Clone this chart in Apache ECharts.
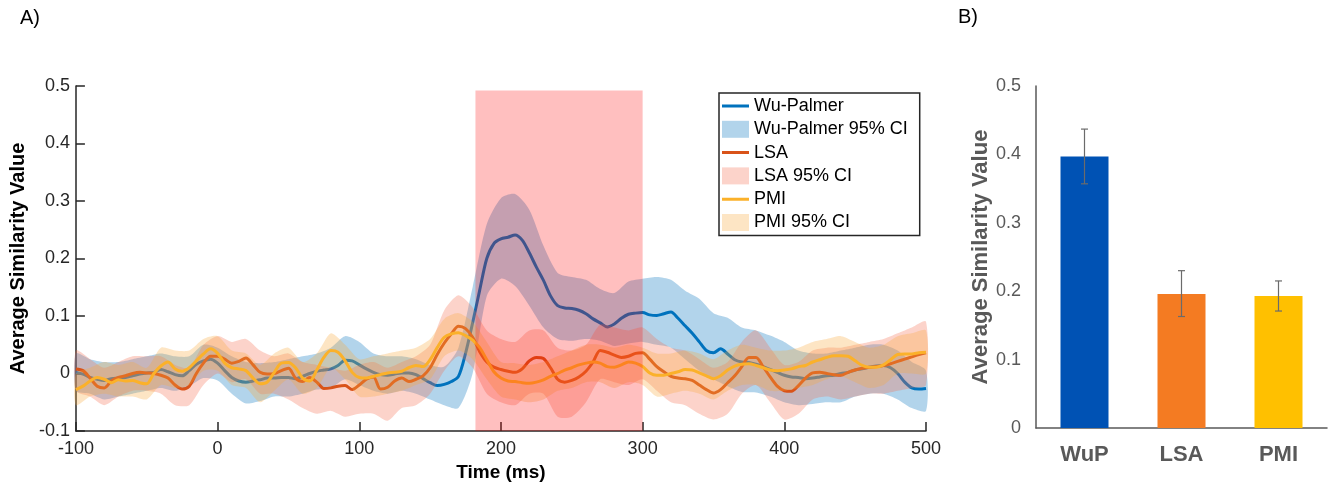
<!DOCTYPE html>
<html>
<head>
<meta charset="utf-8">
<script src="https://cdn.jsdelivr.net/npm/echarts@6/dist/echarts.min.js"></script>
<style>
html, body { margin: 0; padding: 0; background: #fff; }
#chart { width: 1329px; height: 488px; }
</style>
</head>
<body>
<div id="chart"></div>
<script>
// time axis (ms) for the mean lines, 5 ms steps
var timeLine = [-100,-95,-90,-85,-80,-75,-70,-65,-60,-55,
	-50,-45,-40,-35,-30,-25,-20,-15,-10,-5,
	0,5,10,15,20,25,30,35,40,45,
	50,55,60,65,70,75,80,85,90,95,
	100,105,110,115,120,125,130,135,140,145,
	150,155,160,165,170,175,180,185,190,195,
	200,205,210,215,220,225,230,235,240,245,
	250,255,260,265,270,275,280,285,290,295,
	300,305,310,315,320,325,330,335,340,345,
	350,355,360,365,370,375,380,385,390,395,
	400,405,410,415,420,425,430,435,440,445,
	450,455,460,465,470,475,480,485,490,495,
	500];

var wuMean = [0.002,-0.001,-0.007,-0.01,-0.012,-0.009,-0.008,-0.007,-0.004,-0.001,
	0.001,0.002,0.007,0.003,-0.002,-0.004,0.005,0.016,0.022,0.025,
	0.018,0.005,-0.007,-0.013,-0.015,-0.013,-0.011,-0.008,-0.008,-0.007,
	-0.007,-0.009,-0.005,0,0.004,0.006,0.008,0.014,0.023,0.022,
	0.015,0.008,0.002,-0.002,-0.003,-0.001,0.001,0.001,-0.002,-0.009,
	-0.016,-0.021,-0.019,-0.014,-0.005,0.035,0.088,0.145,0.2,0.226,
	0.234,0.237,0.241,0.232,0.21,0.185,0.162,0.135,0.118,0.114,
	0.113,0.11,0.104,0.095,0.088,0.081,0.086,0.096,0.103,0.105,
	0.106,0.102,0.101,0.104,0.107,0.096,0.083,0.07,0.055,0.04,
	0.036,0.043,0.034,0.024,0.02,0.019,0.016,0.012,0.007,0.002,
	-0.003,-0.006,-0.007,-0.009,-0.008,-0.006,-0.004,-0.003,0,0.002,
	0.006,0.008,0.011,0.013,0.014,0.01,0,-0.015,-0.025,-0.027,
	-0.026];

var lsaMean = [0.008,0.005,-0.008,-0.022,-0.025,-0.013,-0.007,-0.004,0,0.002,
	0.001,0,-0.003,-0.008,-0.02,-0.027,-0.022,0,0.018,0.03,
	0.03,0.025,0.018,0.021,0.027,0.015,0.002,-0.001,0,0.005,
	0.009,-0.008,-0.014,-0.007,-0.015,-0.026,-0.025,-0.022,-0.021,-0.028,
	-0.02,-0.01,-0.006,-0.027,-0.024,-0.013,-0.008,-0.014,-0.01,-0.004,
	0.01,0.033,0.053,0.069,0.082,0.078,0.063,0.038,0.02,0.011,
	0.007,0.004,0.002,0.008,0.022,0.028,0.026,0.01,-0.01,-0.015,
	-0.012,-0.006,0.004,0.02,0.04,0.037,0.032,0.028,0.03,0.035,
	0.036,0.025,0.012,0.003,-0.005,-0.008,-0.009,-0.012,-0.02,-0.028,
	-0.034,-0.028,-0.016,-0.004,0.012,0.028,0.028,0.012,-0.006,-0.022,
	-0.03,-0.031,-0.021,-0.008,0.001,0.002,0,-0.002,-0.003,0.002,
	0.006,0.009,0.011,0.012,0.014,0.017,0.021,0.025,0.029,0.033,
	0.036];

var pmiMean = [-0.028,-0.022,-0.013,-0.007,-0.01,-0.016,-0.011,-0.013,-0.012,-0.016,
	-0.018,0,0.013,0.02,0.008,0.004,0.01,0.022,0.034,0.043,
	0.035,0.018,0.01,0.008,0.005,-0.008,-0.018,-0.015,0.002,0.018,
	0.019,0.01,-0.008,-0.013,0.006,0.028,0.04,0.037,0.022,0.002,
	-0.007,-0.008,-0.005,-0.002,0.001,0.002,0.004,0.01,0.014,0.012,
	0.024,0.045,0.063,0.069,0.071,0.066,0.058,0.045,0.024,0.003,
	-0.008,-0.013,-0.014,-0.016,-0.017,-0.015,-0.011,-0.005,0,0.006,
	0.01,0.015,0.018,0.02,0.018,0.012,0.011,0.015,0.02,0.018,
	0.012,0.001,-0.003,-0.003,0,0.003,0.007,0.006,0.001,-0.004,
	-0.009,-0.004,0.006,0.013,0.016,0.017,0.014,0.01,0.006,0.005,
	0.006,0.008,0.012,0.014,0.02,0.024,0.028,0.031,0.031,0.03,
	0.022,0.014,0.011,0.011,0.015,0.024,0.033,0.034,0.034,0.036,
	0.037];

// time axis for the 95% CI bands, 10 ms steps
var timeBand = [-100,-90,-80,-70,-60,-50,-40,-30,-20,-10,
	0,10,20,30,40,50,60,70,80,90,
	100,110,120,130,140,150,160,170,180,190,
	200,210,220,230,240,250,260,270,280,290,
	300,310,320,330,340,350,360,370,380,390,
	400,410,420,430,440,450,460,470,480,490,
	500];

var wuHi = [0.035,0.025,0.02,0.02,0.025,0.03,0.035,0.03,0.03,0.05,
	0.045,0.03,0.02,0.018,0.02,0.025,0.03,0.035,0.045,0.065,
	0.055,0.035,0.03,0.03,0.025,0.015,0.012,0.045,0.15,0.26,
	0.305,0.312,0.285,0.222,0.175,0.168,0.163,0.147,0.14,0.16,
	0.165,0.168,0.163,0.144,0.13,0.105,0.097,0.08,0.075,0.066,
	0.055,0.04,0.035,0.035,0.04,0.045,0.05,0.05,0.04,0.02,
	0.005];
var wuLo = [-0.03,-0.035,-0.045,-0.04,-0.035,-0.03,-0.025,-0.03,-0.022,-0.008,
	-0.012,-0.035,-0.052,-0.048,-0.04,-0.04,-0.035,-0.028,-0.025,-0.01,
	-0.02,-0.03,-0.035,-0.03,-0.035,-0.045,-0.055,-0.06,0,0.135,
	0.165,0.152,0.118,0.08,0.06,0.057,0.06,0.057,0.048,0.052,
	0.055,0.05,0.045,0.025,0.005,-0.01,-0.022,-0.032,-0.033,-0.04,
	-0.05,-0.055,-0.053,-0.05,-0.05,-0.04,-0.035,-0.035,-0.045,-0.06,
	-0.065];

var lsaHi = [0.04,0.025,0.01,0.02,0.03,0.03,0.03,0.015,0.01,0.05,
	0.065,0.055,0.06,0.04,0.03,0.035,0.02,0.015,0.01,0.005,
	0.015,0.02,0.01,0.02,0.03,0.05,0.11,0.136,0.115,0.075,
	0.06,0.055,0.075,0.075,0.045,0.04,0.05,0.085,0.08,0.075,
	0.08,0.06,0.045,0.04,0.025,0.01,0.02,0.055,0.075,0.045,
	0.015,0.02,0.04,0.045,0.045,0.05,0.055,0.06,0.07,0.08,
	0.09];
var lsaLo = [-0.03,-0.04,-0.055,-0.04,-0.03,-0.03,-0.035,-0.055,-0.055,-0.02,
	0,-0.015,-0.01,-0.035,-0.035,-0.045,-0.06,-0.07,-0.065,-0.075,
	-0.07,-0.07,-0.082,-0.06,-0.055,-0.035,0.005,0.03,0.01,-0.035,
	-0.05,-0.055,-0.035,-0.035,-0.075,-0.075,-0.05,-0.01,-0.015,-0.02,
	-0.01,-0.03,-0.05,-0.055,-0.07,-0.08,-0.07,-0.035,-0.02,-0.05,
	-0.08,-0.07,-0.045,-0.04,-0.045,-0.04,-0.035,-0.035,-0.03,-0.025,
	-0.02];

var pmiHi = [0,0.01,0.02,0.015,0.02,0.01,0.045,0.04,0.04,0.06,
	0.065,0.04,0.035,0.015,0.035,0.045,0.02,0.035,0.07,0.05,
	0.025,0.03,0.035,0.04,0.045,0.06,0.095,0.105,0.09,0.055,
	0.02,0.018,0.015,0.02,0.03,0.04,0.05,0.05,0.045,0.05,
	0.045,0.035,0.035,0.04,0.035,0.025,0.04,0.05,0.045,0.04,
	0.04,0.045,0.055,0.06,0.065,0.055,0.045,0.05,0.065,0.07,
	0.075];
var pmiLo = [-0.055,-0.04,-0.035,-0.04,-0.04,-0.045,-0.02,-0.025,-0.02,0.005,
	0.005,-0.02,-0.025,-0.05,-0.03,-0.01,-0.035,-0.025,0.01,-0.01,
	-0.04,-0.04,-0.035,-0.03,-0.02,-0.01,0.03,0.04,0.025,-0.01,
	-0.04,-0.045,-0.05,-0.045,-0.03,-0.025,-0.015,-0.015,-0.025,-0.015,
	-0.02,-0.04,-0.035,-0.03,-0.035,-0.045,-0.03,-0.02,-0.02,-0.03,
	-0.03,-0.025,-0.02,-0.01,-0.005,-0.015,-0.025,-0.02,0,0,
	0];

// analysis window (ms) and its top value
var windowRange = [182, 300, -0.1, 0.492];

// panel B
var barCats = ['WuP', 'LSA', 'PMI'];
var barValues = [0.397, 0.196, 0.193];
var barLow = [0.357, 0.163, 0.171];
var barHigh = [0.437, 0.230, 0.215];
var barColors = ['#0052B4', '#F47B22', '#FFC000'];

var FONT = '"Liberation Sans", Arial, Helvetica, sans-serif';
var LINE_ICON = 'path://M0,0h0.05v0.05h-0.05z M26.95,16.95h0.05v0.05h-0.05z M0,7h27v3h-27z';

function pairs(xs, ys) {
	return xs.map(function (x, i) { return [x, ys[i]]; });
}

// CI band: one polygon, upper edge left to right then lower edge back
function bandSeries(name, lo, hi, color, z) {
	return {
		name: name,
		type: 'custom',
		xAxisIndex: 0, yAxisIndex: 0,
		z: z,
		silent: true,
		itemStyle: { color: color },
		encode: { x: 0, y: [1, 2] },
		data: timeBand.map(function (t, i) { return [t, lo[i], hi[i]]; }),
		renderItem: function (params, api) {
			if (params.dataIndex !== 0) return null;
			var pts = [];
			for (var i = 0; i < timeBand.length; i++) {
				pts.push(api.coord([timeBand[i], hi[i]]));
			}
			for (var j = timeBand.length - 1; j >= 0; j--) {
				pts.push(api.coord([timeBand[j], lo[j]]));
			}
			return {
				type: 'polygon',
				shape: { points: pts, smooth: 0.25 },
				style: { fill: color }
			};
		}
	};
}

function meanSeries(name, values, color, z) {
	return {
		name: name,
		type: 'line',
		xAxisIndex: 0, yAxisIndex: 0,
		z: z,
		symbol: 'none',
		smooth: 0.3,
		silent: true,
		color: color,
		lineStyle: { width: 3, color: color },
		data: pairs(timeLine, values)
	};
}

var wuColor = '#0072BD', lsaColor = '#D95319', pmiColor = '#FBB12A';
var wuBand = 'rgba(0,114,189,0.3)', lsaBand = 'rgba(245,110,80,0.3)', pmiBand = 'rgba(250,170,60,0.3)';

var series = [
	bandSeries('Wu-Palmer 95% CI', wuLo, wuHi, wuBand, 2),
	meanSeries('Wu-Palmer', wuMean, wuColor, 3),
	bandSeries('LSA 95% CI', lsaLo, lsaHi, lsaBand, 4),
	meanSeries('LSA', lsaMean, lsaColor, 5),
	bandSeries('PMI 95% CI', pmiLo, pmiHi, pmiBand, 6),
	meanSeries('PMI', pmiMean, pmiColor, 7)
];

// shaded window drawn over the curves
series.push({
	type: 'custom',
	xAxisIndex: 0, yAxisIndex: 0,
	z: 10,
	silent: true,
	encode: { x: [0, 1], y: [2, 3] },
	data: [windowRange],
	renderItem: function (params, api) {
		var p0 = api.coord([api.value(0), api.value(3)]);
		var p1 = api.coord([api.value(1), api.value(2)]);
		return {
			type: 'rect',
			shape: { x: p0[0], y: p0[1], width: p1[0] - p0[0], height: p1[1] - p0[1] },
			style: { fill: 'rgba(255,0,0,0.25)' }
		};
	}
});

series.push({
	type: 'bar',
	xAxisIndex: 1, yAxisIndex: 1,
	barWidth: 48,
	silent: true,
	data: barValues.map(function (v, i) {
		return { value: v, itemStyle: { color: barColors[i] } };
	})
});

series.push({
	type: 'custom',
	xAxisIndex: 1, yAxisIndex: 1,
	z: 3,
	silent: true,
	encode: { x: 0, y: [1, 2] },
	data: barLow.map(function (lo, i) { return [i, lo, barHigh[i]]; }),
	renderItem: function (params, api) {
		var lo = api.coord([api.value(0), api.value(1)]);
		var hi = api.coord([api.value(0), api.value(2)]);
		var half = 3.5;
		var st = { stroke: '#6b6b6b', lineWidth: 1.2 };
		return {
			type: 'group',
			children: [
				{ type: 'line', shape: { x1: hi[0], y1: hi[1], x2: lo[0], y2: lo[1] }, style: st },
				{ type: 'line', shape: { x1: hi[0] - half, y1: hi[1], x2: hi[0] + half, y2: hi[1] }, style: st },
				{ type: 'line', shape: { x1: lo[0] - half, y1: lo[1], x2: lo[0] + half, y2: lo[1] }, style: st }
			]
		};
	}
});

var legendItem = function (name, isLine) {
	return {
		name: name,
		icon: isLine ? LINE_ICON : 'rect',
		itemStyle: { opacity: 1, borderWidth: 0 }
	};
};

var option = {
	animation: false,
	backgroundColor: '#fff',
	textStyle: { fontFamily: FONT },
	title: [{
		text: 'A)', left: 20, top: 8, padding: 0,
		textStyle: { fontSize: 20, fontWeight: 'normal', color: '#000', fontFamily: FONT }
	}, {
		text: 'B)', left: 958, top: 7, padding: 0,
		textStyle: { fontSize: 20, fontWeight: 'normal', color: '#000', fontFamily: FONT }
	}],
	legend: {
		orient: 'vertical',
		left: 719, top: 93, z: 20,
		padding: [4, 12, 4, 3],
		itemWidth: 27, itemHeight: 17, itemGap: 5.3,
		borderColor: '#262626', borderWidth: 1.5,
		backgroundColor: '#fff',
		selectedMode: false,
		textStyle: { fontSize: 18, lineHeight: 18, color: '#000', fontFamily: FONT },
		data: [
			legendItem('Wu-Palmer', true),
			legendItem('Wu-Palmer 95% CI', false),
			legendItem('LSA', true),
			legendItem('LSA 95% CI', false),
			legendItem('PMI', true),
			legendItem('PMI 95% CI', false)
		]
	},
	grid: [
		{ left: 71, top: 86, width: 855, height: 345 },
		{ left: 1036, top: 86, width: 291, height: 342 }
	],
	xAxis: [{
		type: 'value', gridIndex: 0,
		min: -100, max: 500, interval: 100,
		axisLine: { onZero: false, lineStyle: { color: '#262626', width: 1.5 } },
		axisTick: { inside: true, length: 9, lineStyle: { color: '#262626', width: 1.5 } },
		axisLabel: { fontSize: 18, color: '#262626', margin: 9, fontFamily: FONT },
		splitLine: { show: false },
		name: 'Time (ms)', nameLocation: 'middle', nameGap: 29,
		nameTextStyle: { fontSize: 19, fontWeight: 'bold', color: '#000', fontFamily: FONT }
	}, {
		type: 'category', gridIndex: 1,
		data: barCats,
		axisLine: { lineStyle: { color: '#595959', width: 1.5 } },
		axisTick: { show: false },
		axisLabel: { fontSize: 22, fontWeight: 'bold', color: '#595959', margin: 16, fontFamily: FONT }
	}],
	yAxis: [{
		type: 'value', gridIndex: 0,
		min: -0.1, max: 0.5, interval: 0.1,
		axisLine: { show: true, onZero: false, lineStyle: { color: '#262626', width: 1.5 } },
		axisTick: { show: true, inside: true, length: 9, lineStyle: { color: '#262626', width: 1.5 } },
		axisLabel: { fontSize: 18, color: '#262626', margin: 6, fontFamily: FONT },
		splitLine: { show: false },
		name: 'Average Similarity Value', nameLocation: 'middle', nameGap: 43,
		nameTextStyle: { fontSize: 20, fontWeight: 'bold', color: '#000', fontFamily: FONT }
	}, {
		type: 'value', gridIndex: 1,
		min: 0, max: 0.5, interval: 0.1,
		axisLine: { show: true, lineStyle: { color: '#595959', width: 1.5 } },
		axisTick: { show: false },
		axisLabel: { fontSize: 18, color: '#595959', margin: 15, fontFamily: FONT },
		splitLine: { show: false },
		name: 'Average Similarity Value', nameLocation: 'middle', nameGap: 43,
		nameTextStyle: { fontSize: 22, fontWeight: 'bold', color: '#595959', fontFamily: FONT }
	}],
	series: series
};

var chart = echarts.init(document.getElementById('chart'), null, { renderer: 'canvas' });
chart.setOption(option);
</script>
</body>
</html>
